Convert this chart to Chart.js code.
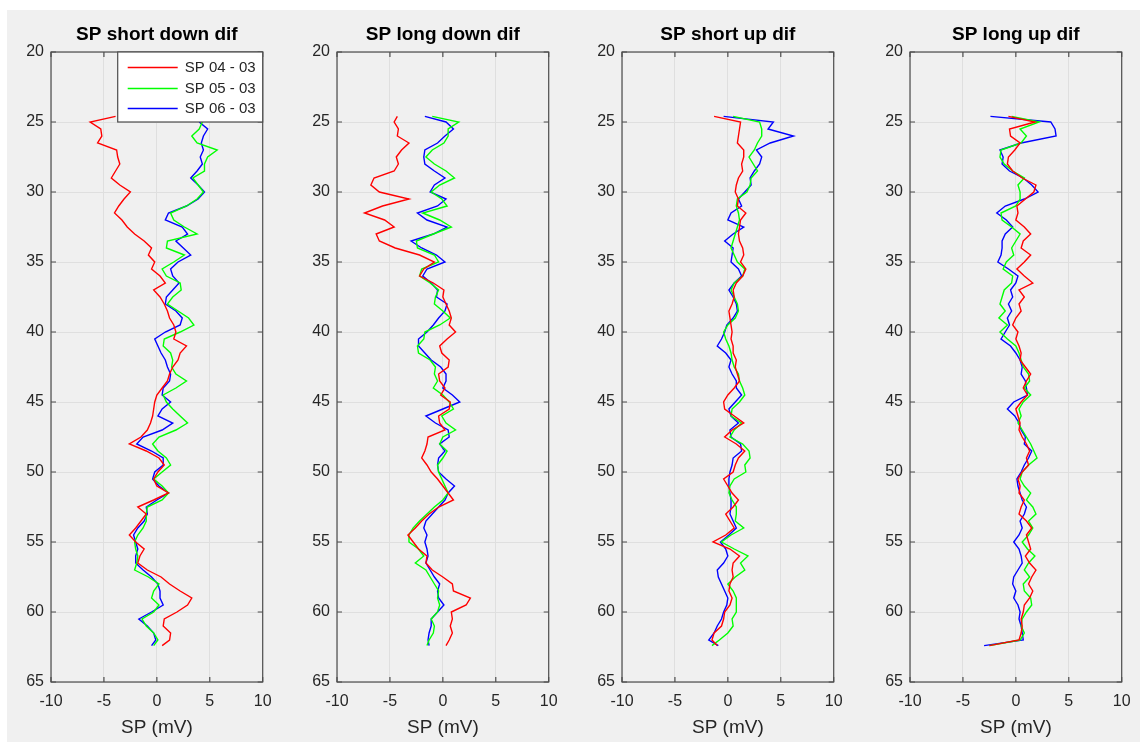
<!DOCTYPE html>
<html>
<head>
<meta charset="utf-8">
<script src="https://cdn.jsdelivr.net/npm/chart.js@4.4.0/dist/chart.umd.min.js"></script>
<style>
  html, body { margin: 0; padding: 0; background: #fff; }
  #figure { position: absolute; left: 7px; top: 10px; width: 1133px; height: 732px; background: #f0f0f0; }
  canvas { position: absolute; top: 10px; }
</style>
</head>
<body>
<div id="figure"></div>
<canvas id="sp1" width="281" height="735" style="left:1px"></canvas>
<canvas id="sp2" width="281" height="735" style="left:287px"></canvas>
<canvas id="sp3" width="281" height="735" style="left:572px"></canvas>
<canvas id="sp4" width="281" height="735" style="left:860px"></canvas>
<script>
/* =====================================
   DATA
======================================== */

// depth (m), shared by every curve
const depth = [24.6, 25, 25.5, 26, 26.5, 27, 27.5, 28, 28.5, 29, 29.5,
  30, 30.5, 31, 31.5, 32, 32.5, 33, 33.5, 34, 34.5,
  35, 35.5, 36, 36.5, 37, 37.5, 38, 38.5, 39, 39.5,
  40, 40.5, 41, 41.5, 42, 42.5, 43, 43.5, 44, 44.5,
  45, 45.5, 46, 46.5, 47, 47.5, 48, 48.5, 49, 49.5,
  50, 50.5, 51, 51.5, 52, 52.5, 53, 53.5, 54, 54.5,
  55, 55.5, 56, 56.5, 57, 57.5, 58, 58.5, 59, 59.5,
  60, 60.5, 61, 61.5, 62, 62.4];

const seriesNames = ["SP 04 - 03", "SP 05 - 03", "SP 06 - 03"];
const titles = ["SP short down dif", "SP long down dif", "SP short up dif", "SP long up dif"];
const xTicks = [-10, -5, 0, 5, 10];
const yTicks = [20, 25, 30, 35, 40, 45, 50, 55, 60, 65];

// SP short down dif
const sdRed = [-3.9, -6.3, -5.3, -5.2, -5.6, -3.8, -3.7, -3.5, -3.9, -4.3, -3.5,
  -2.5, -3.1, -3.6, -4.0, -3.3, -2.8, -2.1, -1.2, -0.5, -0.8,
  -0.2, -0.5, 0.3, 0.8, -0.3, 0.3, 0.7, 1.0, 1.2, 1.6,
  1.8, 1.6, 2.8, 2.2, 2.0, 1.5, 1.2, 1.0, 0.5, 0.0,
  -0.2, -0.3, -0.4, -0.6, -0.9, -1.5, -2.6, -1.0, 0.2, 0.7,
  0.1, -0.3, 0.0, 1.1, -0.3, -1.8, -1.0, -1.5, -2.0, -2.6,
  -2.0, -1.2, -1.6, -1.8, -0.9, 0.4, 1.2, 2.2, 3.3, 2.9,
  1.9, 0.7, 0.6, 1.3, 1.2, 0.5];
const sdGreen = [null, 4.3, 4.0, 3.3, 3.8, 5.7, 4.8, 4.5, 4.5, 3.4, 3.9,
  4.4, 3.8, 2.8, 1.3, 1.6, 2.6, 3.8, 1.0, 0.9, 2.6,
  1.6, 0.5, 0.9, 2.2, 2.3, 1.5, 1.0, 2.0, 3.0, 3.5,
  2.2, 0.7, 0.6, 1.3, 1.5, 1.4, 1.8, 2.8, 1.8, 0.6,
  0.9, 1.5, 2.2, 2.9, 1.8, 0.2, -0.4, 0.1, 0.9, 1.3,
  0.5, -0.3, 0.5, 1.1, 0.5, -0.9, -1.0, -1.0, -1.3, -1.8,
  -2.1, -2.0, -1.8, -1.9, -2.1, -0.8, 0.2, -0.3, -0.5, 0.2,
  -0.3, -1.4, -1.0, -0.3, 0.1, -0.3];
const sdBlue = [null, 4.0, 4.8, 4.4, 4.2, 4.4, 4.1, 4.3, 3.8, 3.2, 3.9,
  4.5, 3.9, 2.8, 1.1, 0.8, 2.4, 2.9, 1.8, 2.5, 3.2,
  2.0, 1.3, 1.5, 2.1, 1.5, 0.9, 0.8, 1.8, 2.4, 2.2,
  0.8, -0.2, 0.1, 0.4, 0.8, 1.0, 1.3, 1.2, 0.6, 0.5,
  1.3, 0.5, 0.1, 1.5, 0.5, -1.3, -1.9, -0.5, 0.6, 0.6,
  -0.2, -0.4, 0.2, 1.1, 0.0, -1.0, -0.9, -1.2, -1.8, -2.2,
  -2.0, -1.8, -2.0, -2.0, -1.3, -0.5, 0.1, 0.3, 0.3, 0.6,
  -0.5, -1.7, -0.9, -0.3, -0.1, -0.5];

// SP long down dif
const ldRed = [-4.3, -4.6, -4.2, -4.3, -3.2, -3.9, -4.4, -4.2, -4.6, -6.5, -6.8,
  -6.0, -3.2, -5.7, -7.4, -5.5, -4.6, -6.3, -6.0, -4.5, -2.2,
  -0.8, -1.8, -2.2, -0.9, 0.1, 0.0, 0.3, 0.6, 0.8, 0.6,
  1.2, 0.4, -0.3, -0.1, 0.6, 0.5, -0.4, -0.3, 0.2, -0.2,
  0.7, 0.6, -0.4, -0.3, 0.2, -1.4, -1.5, -1.7, -2.0, -1.5,
  -1.1, -0.5, 0.0, 0.5, 1.0, -0.4, -1.3, -2.0, -2.6, -3.3,
  -2.8, -2.3, -1.5, -1.6, -1.0, 0.0, 0.9, 1.0, 2.6, 2.2,
  0.8, 0.9, 0.7, 0.9, 0.6, 0.3];
const ldGreen = [-1.0, 1.5, 0.5, 0.5, 0.1, -1.0, -1.6, -0.8, 0.3, 1.1, -0.3,
  -1.1, -0.1, 0.4, -1.9, -0.3, 0.8, -0.9, -2.5, -2.4, -0.8,
  -0.4, -2.0, -2.2, -1.2, -0.4, -0.7, -0.8, 0.0, 0.7, -0.3,
  -1.7, -1.8, -2.4, -2.3, -1.2, -0.7, -0.8, -0.5, -0.9, 0.0,
  0.6, 1.0, -0.1, 0.3, 1.2, 0.0, -0.3, 0.4, 0.0, -0.5,
  -0.4, -0.1, 0.2, 0.5, 0.0, -0.8, -1.5, -2.2, -2.8, -3.2,
  -3.2, -2.3, -1.8, -2.6, -1.6, -1.2, -0.8, -0.4, -0.5, -0.3,
  -0.5, -1.1, -0.8, -0.9, -1.3, -1.5];
const ldBlue = [-1.7, 0.3, 1.0, 0.2, -0.5, -1.7, -1.8, -1.7, -0.8, 0.2, -0.8,
  -1.2, 0.3, -0.5, -2.4, -1.5, 0.4, -0.9, -3.0, -2.0, -0.6,
  0.2, -1.5, -1.9, -1.1, -0.5, -0.6, 0.4, 0.2, -0.4, -0.9,
  -1.5, -2.3, -2.3, -1.7, -1.1, -0.2, 0.3, 0.3, 0.0, 0.9,
  1.6, 0.0, -1.6, -0.7, 0.5, 0.6, -0.3, 0.2, -0.4, -0.5,
  -0.4, 0.3, 1.1, 0.5, 0.2, -0.4, -1.0, -1.6, -1.8, -1.5,
  -1.7, -1.5, -1.4, -1.6, -1.2, -0.8, -0.3, -0.5, -0.4, 0.1,
  -0.5, -1.1, -1.1, -1.3, -1.4, -1.3];

// SP short up dif
const suRed = [-1.3, 1.2, 1.1, 1.0, 0.9, 1.5, 1.5, 1.3, 1.4, 1.0, 0.8,
  0.7, 1.0, 0.9, 1.7, 1.2, 1.1, 1.0, 1.1, 1.4, 1.5,
  1.2, 1.7, 1.4, 0.8, 0.5, 0.6, 0.4, 0.1, 0.2, 0.3,
  0.4, 0.3, 0.5, 0.5, 0.8, 0.7, 0.9, 1.1, 0.6, 0.0,
  -0.4, -0.3, 0.6, 1.5, 0.4, -0.3, 0.8, 1.6, 1.0, 0.7,
  0.5, -0.4, 0.0, 0.4, 1.0, 0.5, -0.2, 0.2, 0.6, -0.2,
  -1.4, 0.2, 1.1, 0.5, 0.4, 0.5, 0.2, 0.1, 0.4, 0.2,
  -0.3, -0.4, -0.6, -1.3, -1.5, -1.0];
const suGreen = [0.5, 3.0, 3.2, 3.2, 2.8, 2.5, 2.0, 2.4, 2.8, 2.2, 2.1,
  1.8, 0.9, 0.8, 1.0, 1.1, 0.9, 0.7, 0.5, 0.3, 0.6,
  0.9, 1.6, 1.4, 0.6, 0.3, 0.6, 0.9, 1.0, 0.7, 0.0,
  -0.4, -0.2, 0.1, 0.3, 0.4, 0.6, 1.0, 1.1, 1.4, 1.6,
  1.1, 0.4, 0.3, 1.3, 0.6, 0.2, 1.4, 2.0, 2.1, 1.6,
  1.7, 0.6, 0.2, 0.1, 0.4, 0.8, 0.8, 0.7, 1.5, 0.3,
  -0.6, 0.6, 1.9, 1.2, 1.6, 0.7, 0.0, 0.5, 0.8, 0.8,
  0.8, 0.4, 0.5, 0.0, -0.8, -1.5];
const suBlue = [-0.4, 4.3, 3.8, 6.2, 4.0, 2.7, 3.2, 3.0, 2.5, 2.1, 2.2,
  1.6, 1.0, 1.3, 0.3, 0.0, 1.5, 0.5, -0.3, 0.5, 0.4,
  0.3, 1.0, 1.3, 0.6, 0.1, 0.5, 0.8, 0.9, 0.5, -0.1,
  -0.3, -0.6, -1.0, -0.2, 0.3, 0.1, 0.4, 0.8, 0.8, 1.3,
  0.7, 0.1, 0.3, 1.0, 0.2, 0.3, 1.2, 1.3, 0.5, 0.4,
  0.2, 0.1, 0.1, 0.2, 0.3, 0.3, 0.2, 0.5, 0.8, 0.1,
  -0.7, -0.2, 0.0, -0.4, -1.0, -0.9, -0.6, -0.3, 0.0, -0.1,
  -0.4, -0.6, -1.0, -1.3, -1.8, -0.9];

// SP long up dif
const luRed = [-0.7, 1.8, -0.6, -0.5, 0.4, -0.1, -0.7, -0.8, -0.3, 0.6, 1.9,
  1.7, 0.9, 0.1, 0.2, 0.0, 0.8, 1.4, 0.7, 0.5, 1.4,
  0.8, 0.1, 0.8, 1.6, 0.3, 0.8, 0.3, 0.5, 0.0, -0.3,
  0.2, 0.0, 0.3, 0.5, 0.4, 0.9, 1.4, 1.0, 0.7, 1.1,
  0.5, 0.0, 0.2, 0.4, 0.3, 0.6, 1.0, 1.3, 1.0, 1.2,
  0.6, 0.2, 0.4, 0.3, 0.8, 0.5, 0.3, 1.0, 1.5, 1.0,
  1.2, 1.4, 0.9, 1.3, 1.9, 1.5, 1.2, 1.6, 1.3, 0.8,
  0.7, 0.5, 0.6, 0.5, 0.3, -2.5];
const luGreen = [-0.4, 2.2, 0.4, 1.0, 0.5, -1.4, -1.5, -1.1, -0.3, 0.8, 0.2,
  0.4, 0.4, 0.0, -1.4, -1.3, -0.4, 0.4, 0.0, -0.4, -0.2,
  -0.9, -1.2, -0.3, -0.4, -1.1, -1.3, -1.5, -1.0, -1.6, -0.8,
  -1.5, -0.8, 0.0, 0.3, 0.5, 0.7, 1.2, 1.3, 0.8, 1.4,
  0.7, 0.3, 0.5, 0.2, 0.6, 1.0, 1.4, 1.7, 2.0, 1.2,
  0.6, 0.4, 0.8, 1.4, 1.0, 1.6, 1.9, 1.2, 1.6, 1.2,
  0.6, 1.1, 1.8, 1.2, 0.8, 1.3, 0.7, 0.8, 1.4, 1.5,
  1.0, 0.6, 0.5, 0.8, 0.4, -2.5];
const luBlue = [-2.4, 3.3, 3.7, 3.8, 0.5, -1.5, -1.2, -1.3, -0.6, 0.7, 1.5,
  2.1, 0.8, -1.0, -1.8, -0.9, -0.3, -1.0, -1.3, -1.3, -1.4,
  -1.7, -0.7, 0.2, 0.0, -0.5, -0.3, -0.7, -0.4, -0.8, -0.6,
  -1.0, -1.4, -0.5, 0.0, 0.4, 0.6, 0.5, 0.9, 1.0, 1.1,
  -0.2, -0.8, -0.1, 0.3, 0.5, 0.9, 0.8, 1.5, 1.2, 0.8,
  0.5, 0.1, 0.2, 0.4, 0.6, 1.0, 0.8, 0.4, 0.6, 0.3,
  -0.2, 0.3, 0.5, 0.6, 0.2, -0.2, -0.3, 0.0, -0.2, 0.2,
  0.4, 0.3, 0.5, 0.6, 0.7, -3.0];

const lineColors = ['#ff0000', '#00ff00', '#0000ff'];

/* =====================================
   STYLE
======================================== */

const fontFamily = "'Liberation Sans', Arial, Helvetica, sans-serif";
Chart.defaults.font.family = fontFamily;
Chart.defaults.color = '#262626';

// axes box with inward ticks, MATLAB style
const axesBox = {
  id: 'axesBox',
  afterDatasetsDraw(chart) {
    const { ctx, chartArea: a, scales: { x, y } } = chart;
    ctx.save();
    ctx.strokeStyle = '#4d4d4d';
    ctx.lineWidth = 1.2;
    ctx.strokeRect(a.left, a.top, a.width, a.height);
    ctx.beginPath();
    x.ticks.forEach(t => {
      const px = x.getPixelForValue(t.value);
      ctx.moveTo(px, a.top); ctx.lineTo(px, a.top + 5);
      ctx.moveTo(px, a.bottom); ctx.lineTo(px, a.bottom - 5);
    });
    y.ticks.forEach(t => {
      const py = y.getPixelForValue(t.value);
      ctx.moveTo(a.left, py); ctx.lineTo(a.left + 5, py);
      ctx.moveTo(a.right, py); ctx.lineTo(a.right - 5, py);
    });
    ctx.stroke();
    ctx.restore();
  }
};

// boxed legend in the upper right corner of the axes
const boxLegend = {
  id: 'boxLegend',
  afterDatasetsDraw(chart, args, opts) {
    if (!opts.show) return;
    const { ctx, chartArea: a } = chart;
    const w = 145, h = 70;
    const left = a.right - w, top = a.top;
    ctx.save();
    ctx.fillStyle = '#fff';
    ctx.fillRect(left, top, w, h);
    ctx.strokeStyle = '#4d4d4d';
    ctx.lineWidth = 1.2;
    ctx.strokeRect(left, top, w, h);
    ctx.font = '15px ' + fontFamily;
    ctx.textBaseline = 'middle';
    ctx.fillStyle = '#262626';
    chart.data.datasets.forEach((ds, i) => {
      const yy = Math.round(top + 15 + i * 20.5) + 0.5;
      ctx.strokeStyle = ds.borderColor;
      ctx.lineWidth = 1.5;
      ctx.beginPath();
      ctx.moveTo(left + 10, yy);
      ctx.lineTo(left + 60, yy);
      ctx.stroke();
      ctx.fillText(ds.label, left + 67, yy);
    });
    ctx.restore();
  }
};

function toPoints(values) {
  return values
    .map((v, i) => ({ x: v, y: depth[i] }))
    .filter(p => p.x !== null);
}

function makePanel(canvasId, title, curves, withLegend) {
  return new Chart(document.getElementById(canvasId), {
    type: 'scatter',
    data: {
      datasets: curves.map((c, i) => ({
        label: seriesNames[i],
        data: toPoints(c),
        showLine: true,
        borderColor: lineColors[i],
        backgroundColor: lineColors[i],
        borderWidth: 1.4,
        pointRadius: 0,
        tension: 0
      }))
    },
    options: {
      responsive: false,
      animation: false,
      layout: { padding: { left: 0, right: 14, top: 0, bottom: 0 } },
      scales: {
        x: {
          type: 'linear',
          min: -10,
          max: 10,
          afterBuildTicks: s => { s.ticks = xTicks.map(v => ({ value: v })); },
          afterFit: s => { s.height = 63; },
          grid: { color: '#dfdfdf', drawTicks: false },
          border: { display: false },
          ticks: { padding: 10.4, font: { size: 16 }, color: '#262626' },
          title: {
            display: true,
            text: 'SP (mV)',
            font: { size: 19 },
            color: '#262626',
            padding: { top: 0, bottom: 5.6 }
          }
        },
        y: {
          type: 'linear',
          reverse: true,
          min: 20,
          max: 65,
          afterBuildTicks: s => { s.ticks = yTicks.map(v => ({ value: v })); },
          afterFit: s => { s.width = 50; },
          grid: { color: '#dfdfdf', drawTicks: false },
          border: { display: false },
          ticks: { padding: 7, font: { size: 16 }, color: '#262626' }
        }
      },
      plugins: {
        legend: { display: false },
        tooltip: { enabled: false },
        title: {
          display: true,
          fullSize: false,
          text: title,
          color: '#000',
          font: { size: 19, weight: 'bold' },
          padding: { top: 13.6, bottom: 5.6 }
        },
        boxLegend: { show: withLegend }
      }
    },
    plugins: [axesBox, boxLegend]
  });
}

makePanel('sp1', titles[0], [sdRed, sdGreen, sdBlue], true);
makePanel('sp2', titles[1], [ldRed, ldGreen, ldBlue], false);
makePanel('sp3', titles[2], [suRed, suGreen, suBlue], false);
makePanel('sp4', titles[3], [luRed, luGreen, luBlue], false);
</script>
</body>
</html>
